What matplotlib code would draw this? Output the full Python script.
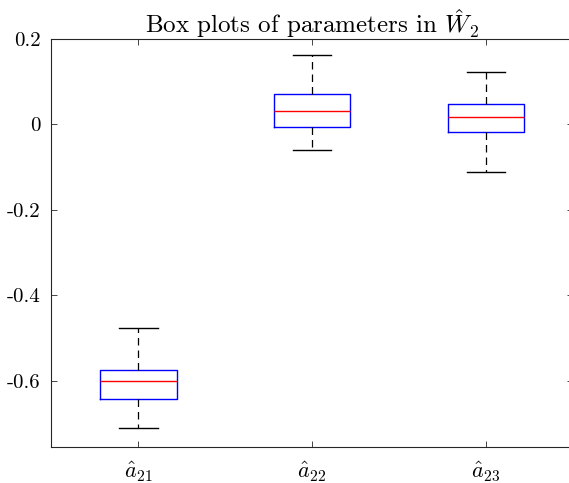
import matplotlib
matplotlib.use('Agg')
import matplotlib.pyplot as plt

plt.rcParams['font.family'] = 'serif'
plt.rcParams['font.serif'] = ['cmr10', 'DejaVu Serif']
plt.rcParams['mathtext.fontset'] = 'cm'
plt.rcParams['axes.unicode_minus'] = False

# box stats
labels = [r'$\hat{a}_{21}$', r'$\hat{a}_{22}$', r'$\hat{a}_{23}$']
whislo = [-0.710, -0.059, -0.112]
q1 = [-0.642, -0.006, -0.017]
med = [-0.600, 0.032, 0.016]
q3 = [-0.573, 0.071, 0.047]
whishi = [-0.477, 0.161, 0.123]

yticks = [-0.6, -0.4, -0.2, 0, 0.2]
yticklabels = ['-0.6', '-0.4', '-0.2', '0', '0.2']

stats = []
for i in range(len(labels)):
    stats.append(dict(label=labels[i], whislo=whislo[i], q1=q1[i], med=med[i],
                      q3=q3[i], whishi=whishi[i], fliers=[]))

fig = plt.figure(figsize=(5.69, 4.83), dpi=100)
ax = fig.add_axes([0.0905, 0.0745, 0.9165, 0.8455])

ax.bxp(stats, positions=[1, 2, 3], widths=0.44, showfliers=False,
       boxprops=dict(color='blue', linewidth=1.0),
       medianprops=dict(color='#ff0000', linewidth=1.0),
       whiskerprops=dict(color='black', linestyle=(0, (6, 4)), linewidth=0.9),
       capprops=dict(color='black', linewidth=1.0),
       capwidths=0.22)

ax.set_xlim(0.5, 3.5)
ax.set_ylim(-0.754, 0.2)
ax.set_yticks(yticks)
ax.set_yticklabels(yticklabels)
ax.set_xticks([1, 2, 3])
ax.set_xticklabels(labels)

for s in ax.spines.values():
    s.set_color('#262626')
    s.set_linewidth(0.8)
ax.tick_params(direction='in', top=True, right=True, length=4, width=0.6,
               color='#262626', labelsize=15, pad=8)
ax.tick_params(axis='x', labelsize=16, pad=9)

ax.set_title(r'Box plots of parameters in $\hat{W}_2$', fontsize=18, pad=4)

fig.savefig('out.png', dpi=100)
